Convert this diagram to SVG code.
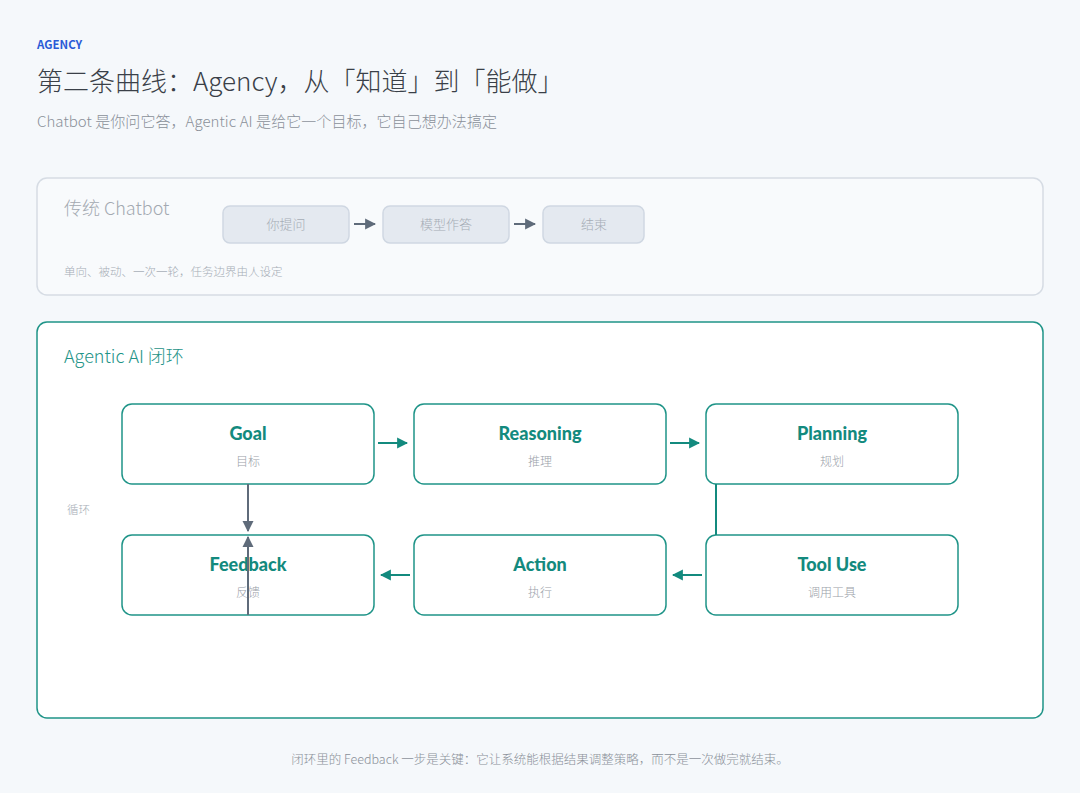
<svg xmlns="http://www.w3.org/2000/svg" width="1080" height="793" viewBox="0 0 1080 793">
<defs>
<style>
text{font-family:"Noto Sans CJK SC","Noto Sans",sans-serif}
.node rect{fill:#fff;stroke:#1f9488;stroke-width:1.5}
.en{font-family:Lato,"Noto Sans",sans-serif;font-weight:900;font-size:18px;fill:#138a7e;text-anchor:middle}
.zh{font-size:12px;fill:#9aa1a9;text-anchor:middle;font-weight:300}
.cb rect{fill:#e4e9f0;stroke:#cfd7e2;stroke-width:1.5}
.cb text{font-size:13px;fill:#a6adb6;text-anchor:middle;font-weight:300}
</style>
<marker id="ta" viewBox="0 0 10 10" refX="9" refY="5" markerWidth="11" markerHeight="12" markerUnits="userSpaceOnUse" orient="auto"><path d="M0,0L10,5L0,10z" fill="#138a7e"/></marker>
<marker id="ga" viewBox="0 0 10 10" refX="9" refY="5" markerWidth="11" markerHeight="12" markerUnits="userSpaceOnUse" orient="auto"><path d="M0,0L10,5L0,10z" fill="#5f6b7a"/></marker>
</defs>
<rect width="1080" height="793" fill="#f5f8fb"/>
<text x="37" y="49" font-family="Lato,sans-serif" font-weight="700" font-size="11.5" fill="#2a5bd7">AGENCY</text>
<text x="37" y="91" font-size="26" font-weight="300" fill="#3a4048">第二条曲线：Agency，从「知道」到「能做」</text>
<text x="37" y="127" font-size="15" font-weight="300" fill="#8a9099" textLength="460">Chatbot 是你问它答，Agentic AI 是给它一个目标，它自己想办法搞定</text>

<g id="chatbot-panel">
<rect x="37" y="178" width="1006" height="117" rx="10" fill="#f8fafc" stroke="#d6dce4" stroke-width="1.5"/>
<text x="64" y="215" font-size="18" font-weight="300" fill="#a3a9b1">传统 Chatbot</text>
<text x="64" y="276" font-size="11.5" font-weight="300" fill="#a6adb6">单向、被动、一次一轮，任务边界由人设定</text>
</g>
<g id="cb1" class="cb"><rect x="223" y="206" width="126" height="37" rx="7"/><text x="286" y="229">你提问</text></g>
<g id="cb2" class="cb"><rect x="383" y="206" width="126" height="37" rx="7"/><text x="446" y="229">模型作答</text></g>
<g id="cb3" class="cb"><rect x="543" y="206" width="101" height="37" rx="7"/><text x="594" y="229">结束</text></g>

<g id="agentic-panel">
<rect x="37" y="322" width="1006" height="396" rx="10" fill="#fff" stroke="#1f9488" stroke-width="1.5"/>
<text x="64" y="363" font-size="18" font-weight="300" fill="#1f9488">Agentic AI 闭环</text>
<text x="67" y="514" font-size="11.5" font-weight="300" fill="#a6adb6">循环</text>
</g>

<g id="goal" class="node"><rect x="122" y="404" width="252" height="80" rx="10"/><text class="en" x="248" y="440">Goal</text><text class="zh" x="248" y="466">目标</text></g>
<g id="reasoning" class="node"><rect x="414" y="404" width="252" height="80" rx="10"/><text class="en" x="540" y="440">Reasoning</text><text class="zh" x="540" y="466">推理</text></g>
<g id="planning" class="node"><rect x="706" y="404" width="252" height="80" rx="10"/><text class="en" x="832" y="440">Planning</text><text class="zh" x="832" y="466">规划</text></g>
<g id="feedback" class="node"><rect x="122" y="535" width="252" height="80" rx="10"/><text class="en" x="248" y="571">Feedback</text><text class="zh" x="248" y="597">反馈</text></g>
<g id="action" class="node"><rect x="414" y="535" width="252" height="80" rx="10"/><text class="en" x="540" y="571">Action</text><text class="zh" x="540" y="597">执行</text></g>
<g id="tooluse" class="node"><rect x="706" y="535" width="252" height="80" rx="10"/><text class="en" x="832" y="571">Tool Use</text><text class="zh" x="832" y="597">调用工具</text></g>

<g id="connectors" fill="none" stroke-width="2">
<path d="M354,224H375" stroke="#5f6b7a" marker-end="url(#ga)"/>
<path d="M514,224H535" stroke="#5f6b7a" marker-end="url(#ga)"/>
<path d="M378,443H407" stroke="#138a7e" marker-end="url(#ta)"/>
<path d="M670,443H699" stroke="#138a7e" marker-end="url(#ta)"/>
<path d="M716,484V535" stroke="#138a7e"/>
<path d="M702,575H673" stroke="#138a7e" marker-end="url(#ta)"/>
<path d="M410,575H381" stroke="#138a7e" marker-end="url(#ta)"/>
<path d="M248,484V531" stroke="#5f6b7a" marker-end="url(#ga)"/>
<path d="M248,615V537" stroke="#5f6b7a" marker-end="url(#ga)"/>
</g>
<text x="540" y="764" font-size="12.5" font-weight="300" fill="#8a9099" text-anchor="middle">闭环里的 Feedback 一步是关键：它让系统能根据结果调整策略，而不是一次做完就结束。</text>
</svg>
